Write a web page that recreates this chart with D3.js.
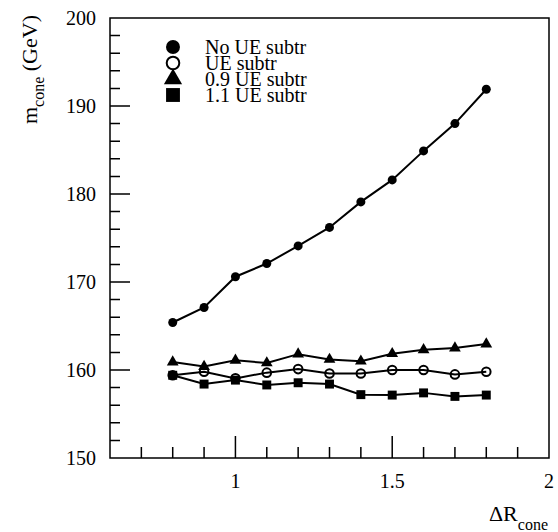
<!DOCTYPE html>
<html>
<head>
<meta charset="utf-8">
<script src="https://cdn.jsdelivr.net/npm/d3@7"></script>
<style>
  body { margin: 0; background: #fff; }
</style>
</head>
<body>
<div id="chart"></div>
<script>
// data
var dR = [0.8, 0.9, 1.0, 1.1, 1.2, 1.3, 1.4, 1.5, 1.6, 1.7, 1.8];
var noSub = [165.4, 167.1, 170.6, 172.1, 174.1, 176.2, 179.1, 181.6, 184.9, 188.0, 191.9];
var ueSub = [159.4, 159.8, 159.05, 159.7, 160.1, 159.6, 159.6, 160.0, 160.0, 159.5, 159.8];
var ue09 = [160.9, 160.4, 161.1, 160.8, 161.8, 161.2, 161.0, 161.85, 162.3, 162.5, 162.95];
var ue11 = [159.4, 158.4, 158.85, 158.3, 158.55, 158.4, 157.2, 157.15, 157.4, 157.0, 157.15];
var seriesNames = ["No UE subtr", "UE subtr", "0.9 UE subtr", "1.1 UE subtr"];
var yTicks = [150, 160, 170, 180, 190, 200];
var yMinor = [152, 154, 156, 158, 162, 164, 166, 168, 172, 174, 176, 178, 182, 184, 186, 188, 192, 194, 196, 198];
var xTicks = [1, 1.5, 2];
var xMinor = [0.7, 0.8, 0.9, 1.1, 1.2, 1.3, 1.4, 1.6, 1.7, 1.8, 1.9];

var W = 558, H = 532;
var margin = {top: 18, right: 9, bottom: 74, left: 110};
var width = W - margin.left - margin.right,
    height = H - margin.top - margin.bottom;
var FONT = "Liberation Serif";

var svg = d3.select("#chart")
    .append("svg")
    .attr("width", W)
    .attr("height", H)
    .attr("font-family", FONT);

var g = svg.append("g")
    .attr("transform", "translate(" + margin.left + "," + margin.top + ")");

var x = d3.scaleLinear().domain([0.6, 2]).range([0, width]);
var y = d3.scaleLinear().domain([150, 200]).range([height, 0]);

// frame and inward tick marks in one path
var p = d3.path();
p.rect(0, 0, width, height);
xMinor.forEach(function (d) { p.moveTo(x(d), height); p.lineTo(x(d), height - 11); });
xTicks.forEach(function (d) { p.moveTo(x(d), height); p.lineTo(x(d), height - 22); });
yMinor.forEach(function (d) { p.moveTo(0, y(d)); p.lineTo(10, y(d)); });
yTicks.forEach(function (d) { p.moveTo(0, y(d)); p.lineTo(20, y(d)); });
g.append("path")
    .attr("d", p.toString())
    .attr("fill", "none")
    .attr("stroke", "#000")
    .attr("stroke-width", 1.5);

g.selectAll(".xlab").data(xTicks).enter().append("text")
    .attr("x", d => x(d))
    .attr("y", height + 30)
    .attr("text-anchor", "middle")
    .attr("font-size", 20)
    .attr("font-family", FONT)
    .text(d => d3.format("")(d));

g.selectAll(".ylab").data(yTicks).enter().append("text")
    .attr("x", -14)
    .attr("y", d => y(d))
    .attr("dy", "0.35em")
    .attr("text-anchor", "end")
    .attr("font-size", 20)
    .attr("font-family", FONT)
    .text(d => d);

// axis titles
var yl = svg.append("text")
    .attr("transform", "translate(37,15) rotate(-90)")
    .attr("text-anchor", "end")
    .attr("font-family", FONT)
    .attr("font-size", 22);
yl.append("tspan").text("m");
yl.append("tspan").attr("dy", 7).attr("font-size", 16).text("cone");
yl.append("tspan").attr("dy", -7).text(" (GeV)");

var xl = svg.append("text")
    .attr("x", 548)
    .attr("y", 521)
    .attr("text-anchor", "end")
    .attr("font-family", FONT)
    .attr("font-size", 22);
xl.append("tspan").text("\u0394R");
xl.append("tspan").attr("dy", 9).attr("font-size", 16).text("cone");

// series
var line = d3.line().x((d, i) => x(dR[i])).y(d => y(d));
var allSeries = [
    {name: seriesNames[0], values: noSub, type: "fcircle"},
    {name: seriesNames[1], values: ueSub, type: "ocircle"},
    {name: seriesNames[2], values: ue09, type: "triangle"},
    {name: seriesNames[3], values: ue11, type: "square"}
];

function drawMarker(sel, type, big) {
    var k = big ? 1.55 : 1;
    if (type == "fcircle") {
        sel.append("circle").attr("r", 4.5 * k).attr("fill", "#000");
    } else if (type == "ocircle") {
        sel.append("circle").attr("r", (big ? 6.3 : 4.3)).attr("fill", "none")
            .attr("stroke", "#000").attr("stroke-width", 2);
    } else if (type == "triangle") {
        sel.append("path").attr("d", d3.symbol(d3.symbolTriangle, 60 * k * k)).attr("fill", "#000");
    } else {
        sel.append("path").attr("d", d3.symbol(d3.symbolSquare, 80 * k * k)).attr("fill", "#000");
    }
}

// lines first, then markers
allSeries.slice().reverse().forEach(function (s) {
    g.append("path")
        .datum(s.values)
        .attr("d", line)
        .attr("fill", "none")
        .attr("stroke", "#000")
        .attr("stroke-width", 2);
});
allSeries.slice().reverse().forEach(function (s) {
    s.values.forEach(function (v, i) {
        var m = g.append("g").attr("transform", "translate(" + x(dR[i]) + "," + y(v) + ")");
        drawMarker(m, s.type, false);
    });
});

// legend
var legend = svg.append("g");
allSeries.forEach(function (s, i) {
    var row = legend.append("g").attr("transform", "translate(173," + (47 + i * 16) + ")");
    drawMarker(row, s.type, true);
    row.append("text")
        .attr("x", 32)
        .attr("dy", "0.35em")
        .attr("font-size", 20)
        .attr("font-family", FONT)
        .text(s.name);
});
</script>
</body>
</html>
